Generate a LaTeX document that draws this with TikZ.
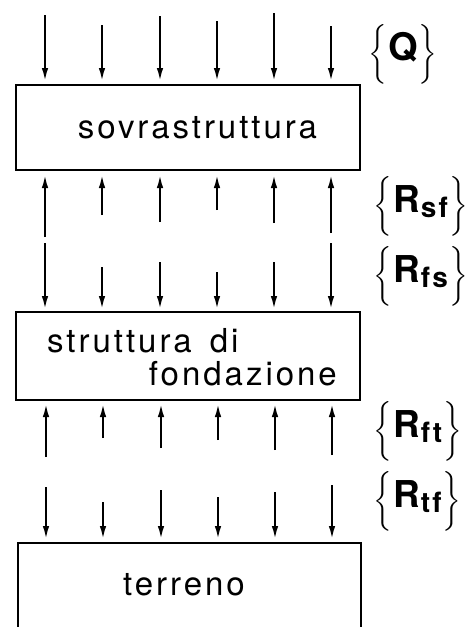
\documentclass[tikz,border=0pt]{standalone}
\usepackage{exscale}
\usepackage{fontspec}
\setmainfont{TeX Gyre Heros}
\newfontfamily\boxfont[LetterSpace=9]{TeX Gyre Heros}
\newfontfamily\subfont[LetterSpace=8]{TeX Gyre Heros}
\usetikzlibrary{arrows.meta}
\newcommand{\brL}{{\fontsize{32}{34}\selectfont$\left\{\vcenter to 57pt{}\right.$}}
\newcommand{\brR}{{\fontsize{32}{34}\selectfont$\left.\vcenter to 57pt{}\right\}$}}
\newcommand{\labR}[1]{{\bfseries\fontsize{37}{40}\selectfont R}\kern1pt\raisebox{-5pt}{\subfont\bfseries\fontsize{28}{30}\selectfont #1}}
\begin{document}
\begin{tikzpicture}[x=1pt,y=-1pt,
  frame/.style={line width=2.8pt},
  force/.style={line width=2pt,-{Latex[length=13pt,width=6.5pt]}},
  boxtext/.style={font=\boxfont\fontsize{33}{33}\selectfont,inner sep=0pt},
  lab/.style={anchor=west,inner sep=0pt}]
\useasboundingbox (0,0) rectangle (469,627);
% boxes
\node[frame,draw,minimum width=344pt,minimum height=85pt,inner sep=0pt] (sov) at (188,127.5) {};
\node[boxtext,anchor=base] (sovt) at (197.5,138) {sovrastruttura};
\node[frame,draw,minimum width=344pt,minimum height=88pt,inner sep=0pt] (fon) at (188,356) {};
\node[boxtext,anchor=base west] (font1) at (47,352) {struttura\kern6pt{} di};
\node[boxtext,anchor=base east] (font2) at (337,385) {fondazione};
\coordinate (t1) at (18,627);
\coordinate (t2) at (18,543);
\coordinate (t3) at (361,543);
\coordinate (t4) at (361,627);
\draw[frame,line join=miter] (t1) -- (t2) -- (t3) -- (t4);
\node[boxtext,anchor=base] (ter) at (184,595) {terreno};
% Q arrows
\foreach \x/\t [count=\i] in {45/15,102/25,160/16,217/21,274/13,331/26}{
  \coordinate (qa\i) at (\x,\t);
  \coordinate (qb\i) at (\x,81);
  \draw[force] (qa\i) -- (qb\i);
}
% Rsf arrows (up)
\foreach \x/\t [count=\i] in {45/237,102/215,160/222,217/210,274/223,331/233}{
  \coordinate (sa\i) at (\x,\t);
  \coordinate (sb\i) at (\x,175);
  \draw[force] (sa\i) -- (sb\i);
}
% Rfs arrows (down)
\foreach \x/\t [count=\i] in {45/243,102/267,160/262,217/272,274/262,331/243}{
  \coordinate (fa\i) at (\x,\t);
  \coordinate (fb\i) at (\x,309);
  \draw[force] (fa\i) -- (fb\i);
}
% Rft arrows (up)
\foreach \x/\t [count=\i] in {46/457,103/438,161/448,218/440,275/450,332/455}{
  \coordinate (ga\i) at (\x,\t);
  \coordinate (gb\i) at (\x,404);
  \draw[force] (ga\i) -- (gb\i);
}
% Rtf arrows (down)
\foreach \x/\t [count=\i] in {46/487,103/502,161/490,218/497,275/492,332/485}{
  \coordinate (ha\i) at (\x,\t);
  \coordinate (hb\i) at (\x,539);
  \draw[force] (ha\i) -- (hb\i);
}
% labels
\node[lab] (lq) at (368,54) {\brL{\bfseries\fontsize{38}{40}\selectfont Q}\brR};
\node[lab] (lsf) at (373,206.5) {\brL\labR{sf}\brR};
\node[lab] (lfs) at (373,276) {\brL\labR{fs}\brR};
\node[lab] (lft) at (373,431) {\brL\labR{ft}\brR};
\node[lab] (ltf) at (373,501) {\brL\labR{tf}\brR};
\end{tikzpicture}
\end{document}
